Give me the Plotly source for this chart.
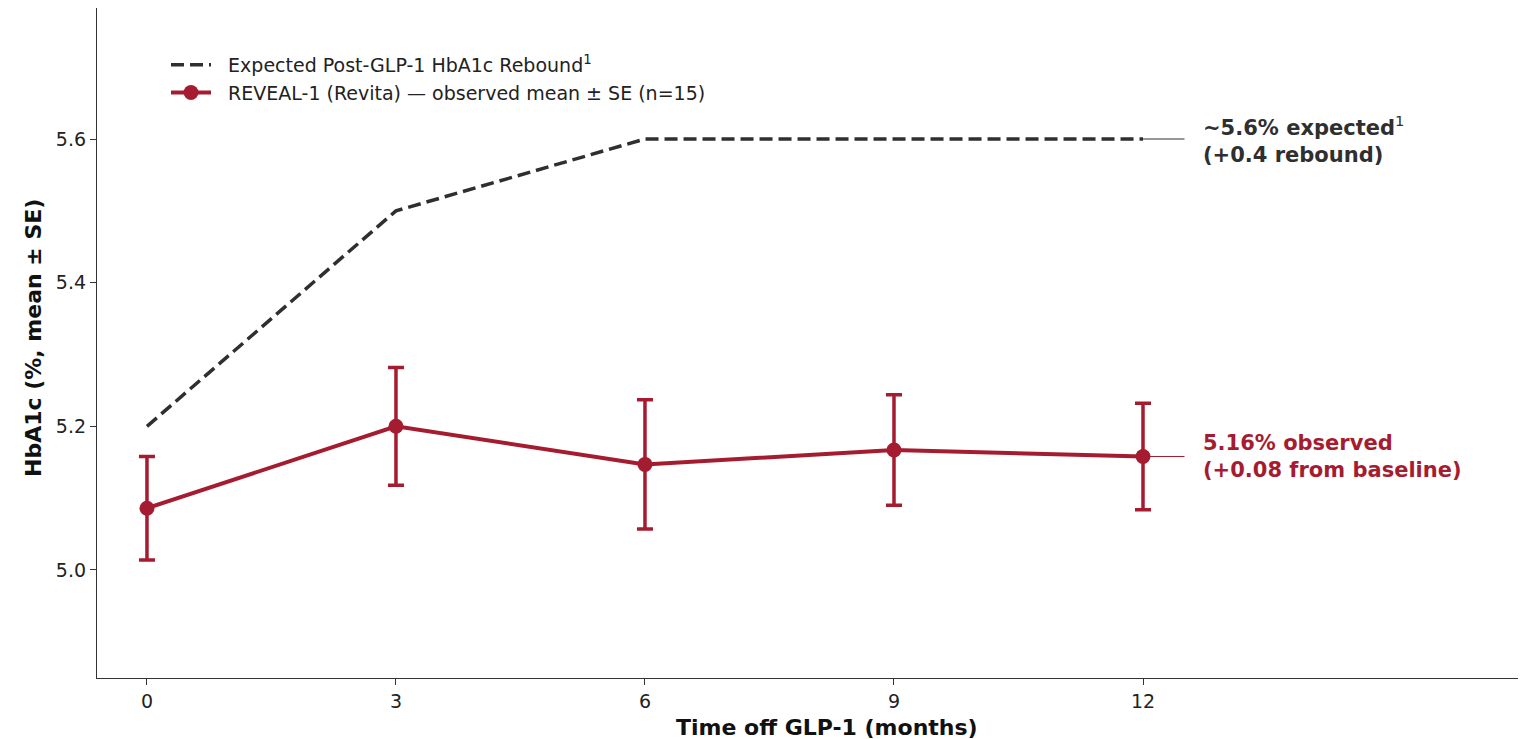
import plotly.graph_objects as go

months = [0, 3, 6, 9, 12]
expected = [5.2, 5.5, 5.6, 5.6, 5.6]
observed = [5.086, 5.200, 5.147, 5.167, 5.158]
observed_se = [0.072, 0.082, 0.090, 0.077, 0.074]

x_ticks = [0, 3, 6, 9, 12]
y_ticks = [5.0, 5.2, 5.4, 5.6]

DARK = "#2f2f2f"
RED = "#a51c30"
FONT = "DejaVu Sans"
NB = "\u00a0"

W, H = 1527, 739
L, R, T, B = 97, 9, 8, 61
PW, PH = W - L - R, H - T - B


def px_x(px):
    return (px - L) / PW


def px_y(py):
    return (H - B - py) / PH


fig = go.Figure()

fig.add_trace(go.Scatter(
    x=months, y=expected, mode="lines",
    name=NB * 2 + "Expected Post-GLP-1 HbA1c Rebound<sup>1</sup>",
    line=dict(color=DARK, width=3.5, dash="13px,6px"),
))

fig.add_trace(go.Scatter(
    x=months, y=observed, mode="lines+markers",
    name=NB * 2 + "REVEAL-1 (Revita) — observed mean ± SE (n=15)",
    line=dict(color=RED, width=4),
    marker=dict(color=RED, size=15),
    error_y=dict(type="data", array=observed_se, visible=True,
                 color=RED, thickness=3.5, width=8),
))

# connector lines from final points to labels
fig.add_shape(type="line", x0=months[-1], x1=12.5, y0=expected[-1], y1=expected[-1],
              line=dict(color=DARK, width=1))
fig.add_shape(type="line", x0=months[-1], x1=12.5, y0=observed[-1], y1=observed[-1],
              line=dict(color=RED, width=1))

fig.add_annotation(x=12.70, y=expected[-1], xref="x", yref="y", xanchor="left", yanchor="middle",
                   text="<b>~5.6% expected</b><sup>1</sup><br><b>(+0.4 rebound)</b>",
                   showarrow=False, align="left",
                   font=dict(family=FONT, size=21, color=DARK))
fig.add_annotation(x=12.70, y=observed[-1], xref="x", yref="y", xanchor="left", yanchor="middle",
                   text="<b>5.16% observed</b><br><b>(+0.08 from baseline)</b>",
                   showarrow=False, align="left",
                   font=dict(family=FONT, size=21, color=RED))

# axis titles
fig.add_annotation(x=px_x(827), y=px_y(727), xref="paper", yref="paper", showarrow=False,
                   xanchor="center", yanchor="middle",
                   text="<b>Time off GLP-1 (months)</b>",
                   font=dict(family=FONT, size=22, color="#111"))
fig.add_annotation(x=px_x(33), y=px_y(338), xref="paper", yref="paper", showarrow=False,
                   xanchor="center", yanchor="middle", textangle=-90,
                   text="<b>HbA1c (%, mean ± SE)</b>",
                   font=dict(family=FONT, size=22, color="#111"))

fig.update_layout(
    width=W, height=H,
    margin=dict(l=L, r=R, t=T, b=B, autoexpand=False),
    paper_bgcolor="white", plot_bgcolor="white",
    font=dict(family=FONT, size=19, color="#222"),
    showlegend=True,
    legend=dict(x=px_x(166), y=px_y(46), xanchor="left", yanchor="top",
                bgcolor="rgba(255,255,255,0)", font=dict(family=FONT, size=19, color="#222"),
                itemwidth=40),
    xaxis=dict(range=[-0.602, 16.518], tickvals=x_ticks, ticktext=[str(t) for t in x_ticks],
               showgrid=False, zeroline=False, showline=True, linecolor="#333", linewidth=1.3,
               ticks="outside", ticklen=6, tickcolor="#333", tickwidth=1.2,
               tickfont=dict(family=FONT, size=19, color="#222")),
    yaxis=dict(range=[4.8496, 5.7824], tickvals=y_ticks, ticktext=[f"{t:.1f}" for t in y_ticks],
               showgrid=False, zeroline=False, showline=True, linecolor="#333", linewidth=1.3,
               ticks="outside", ticklen=6, tickcolor="#333", tickwidth=1.2,
               tickfont=dict(family=FONT, size=19, color="#222")),
)

fig.write_html("out.html", config={"displayModeBar": False},
               post_script="document.body.style.margin='0';document.body.style.overflow='hidden';")
